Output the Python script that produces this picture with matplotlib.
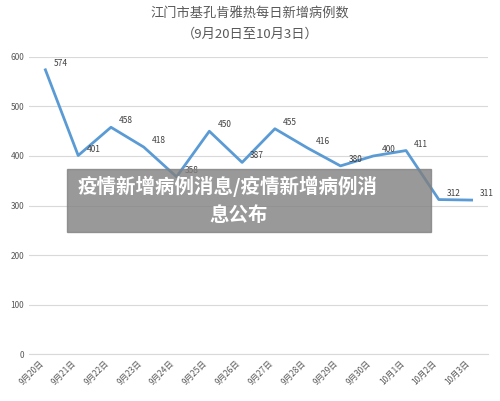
import matplotlib
matplotlib.use('Agg')
import matplotlib.pyplot as plt
from matplotlib.patches import Rectangle

plt.rcParams['font.family'] = ['Noto Sans CJK SC', 'DejaVu Sans']

dates = ['9月20日', '9月21日', '9月22日', '9月23日', '9月24日', '9月25日', '9月26日',
         '9月27日', '9月28日', '9月29日', '9月30日', '10月1日', '10月2日', '10月3日']
cases = [574, 401, 458, 418, 358, 450, 387, 455, 416, 380, 400, 411, 312, 311]

fig = plt.figure(figsize=(5, 4.01), dpi=100)
ax = fig.add_axes([0.058, 0.117, 0.918, 0.741])
x = list(range(len(dates)))
ax.plot(x, cases, color='#5b9bd5', lw=2)
for i, v in enumerate(cases):
    ax.text(i + 0.25, v + 8, str(v), fontsize=6, color='#404040')
ax.set_xlim(-0.5, len(dates) - 0.5)
ax.set_ylim(0, 600)
ax.set_yticks(range(0, 601, 100))
ax.set_xticks(x)
ax.set_xticklabels(dates, rotation=45, ha='right', fontsize=6, color='#595959')
ax.tick_params(axis='y', labelsize=6, colors='#595959', length=0)
ax.tick_params(axis='x', length=0)
ax.grid(axis='y', color='#d9d9d9', lw=0.8)
for s in ['top', 'right', 'left']:
    ax.spines[s].set_visible(False)
ax.spines['bottom'].set_color('#d9d9d9')

fig.text(0.5, 0.955, '江门市基孔肯雅热每日新增病例数', ha='center', fontsize=9.5, color='#595959')
fig.text(0.5, 0.905, '（9月20日至10月3日）', ha='center', fontsize=9.5, color='#595959')

fig.patches.append(Rectangle((0.134, 0.421), 0.728, 0.158, transform=fig.transFigure,
                             color='#808080', alpha=0.8, zorder=10))
fig.text(0.155, 0.535, '疫情新增病例消息/疫情新增病例消', ha='left', va='center',
         fontsize=14, weight='bold', color='white', zorder=11)
fig.text(0.478, 0.462, '息公布', ha='center', va='center',
         fontsize=14, weight='bold', color='white', zorder=11)

fig.savefig('out.png', dpi=100)
